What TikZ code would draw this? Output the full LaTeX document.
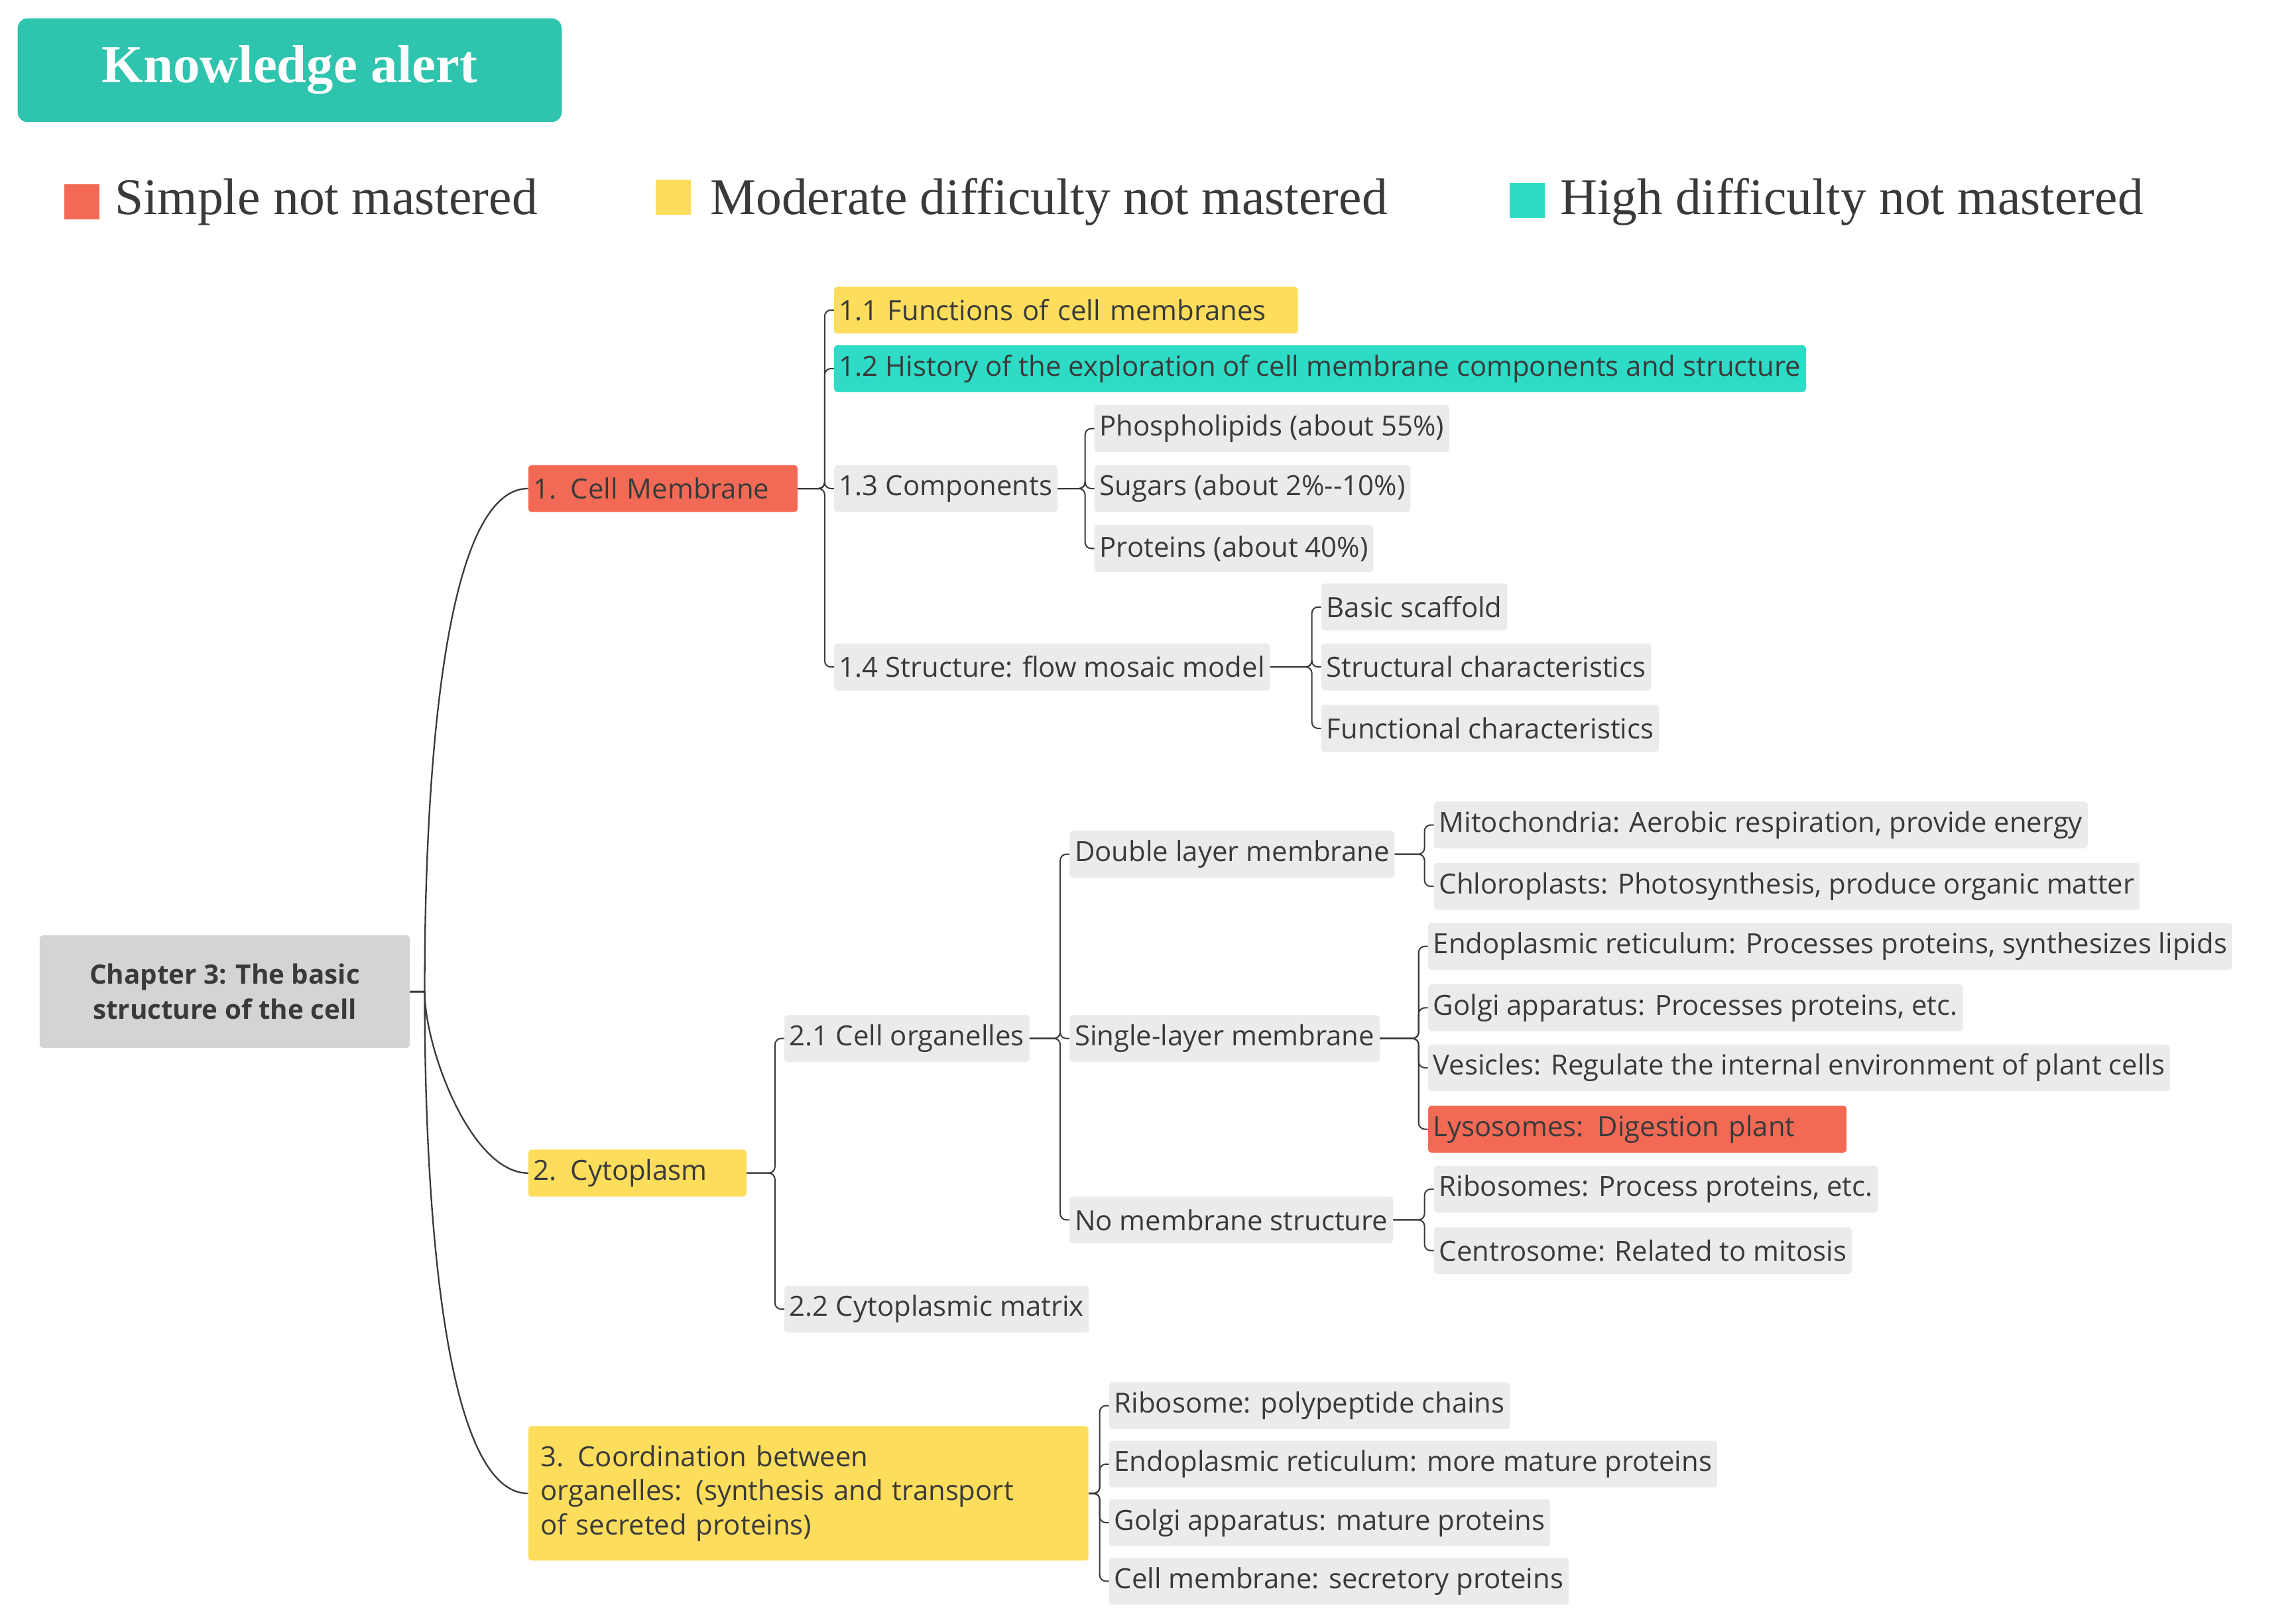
\documentclass[tikz,border=0pt]{standalone}
\usepackage{fontspec}
\setmainfont{Liberation Serif}
\newfontfamily\boxfont{Open Sans}
\usetikzlibrary{positioning}
\definecolor{simple}{HTML}{F26A55}
\definecolor{moderate}{HTML}{FDDD5C}
\definecolor{high}{HTML}{2DDBC6}
\definecolor{titlebg}{HTML}{2EC4AD}
\definecolor{leaf}{HTML}{EBEBEB}
\definecolor{rootbg}{HTML}{D4D4D4}
\definecolor{ink}{HTML}{3A3A3A}
\tikzset{
  box/.style={anchor=west, rounded corners=3pt, inner xsep=5pt, minimum height=1.6cm,
    font=\boxfont\fontsize{27}{33}\selectfont, text=ink, fill=leaf, align=left},
  red/.style={box, fill=simple},
  yel/.style={box, fill=moderate},
  teal/.style={box, fill=high},
  link/.style={draw=ink, line width=1.3pt, rounded corners=6pt},
  curve/.style={draw=ink, line width=1.5pt},
  legend/.style={anchor=west, font=\fontsize{50}{56}\selectfont, text=ink}
}
\newcommand{\branch}[2]{\draw[link] (#1.east) -| ([xshift=-9pt]#2.west) -- (#2.west);}
\begin{document}
\begin{tikzpicture}[x=0.05cm, y=-0.05cm]
\useasboundingbox[fill=white] (0,0) rectangle (1568,1110);
% Titel und Legende
\node [fill=titlebg, rounded corners=10pt, minimum width=18.6cm, minimum height=3.55cm,
  text=white, font=\bfseries\fontsize{52}{58}\selectfont] (title) at (198,48) {Knowledge alert};
\node [fill=simple, minimum size=1.2cm, inner sep=0pt] (lgA) at (56,138) {};
\node [legend] (lgAt) at (76,138) {Simple not mastered};
\node [fill=moderate, minimum size=1.2cm, inner sep=0pt] (lgB) at (460,135) {};
\node [legend] (lgBt) at (483,138) {Moderate difficulty not mastered};
\node [fill=high, minimum size=1.2cm, inner sep=0pt] (lgC) at (1044,137) {};
\node [legend] (lgCt) at (1064,138) {High difficulty not mastered};
% Knoten
\node [box, fill=rootbg, minimum width=12.65cm, minimum height=3.85cm, align=center,
  font=\boxfont\bfseries\fontsize{26}{34}\selectfont] (root) at (27,678) {Chapter 3: The basic\\structure of the cell};
\node [red, text width=8.85cm] (cm) at (361,334) {1. Cell Membrane};
\node [yel, text width=7.1cm] (cyt) at (361,802) {2. Cytoplasm};
\node [yel, text width=18.3cm, minimum height=4.6cm, inner xsep=12pt] (coord) at (361,1021)
  {3. Coordination between\\organelles: (synthesis and transport\\of secreted proteins)};
% 1
\node [yel, text width=15.5cm] (fun) at (570,212) {1.1 Functions of cell membranes};
\node [teal] (hist) at (570,252) {1.2 History of the exploration of cell membrane components and structure};
\node [box] (comp) at (570,334) {1.3 Components};
\node [box] (struc) at (570,456) {1.4 Structure: flow mosaic model};
\node [box] (phos) at (748,293) {Phospholipids (about 55\%)};
\node [box] (sug) at (748,334) {Sugars (about 2\%--10\%)};
\node [box] (prot) at (748,375) {Proteins (about 40\%)};
\node [box] (scaf) at (903,415) {Basic scaffold};
\node [box] (schar) at (903,456) {Structural characteristics};
\node [box] (fchar) at (903,498) {Functional characteristics};
% 2
\node [box] (org) at (536,710) {2.1 Cell organelles};
\node [box] (mat) at (536,895) {2.2 Cytoplasmic matrix};
\node [box] (dbl) at (731,584) {Double layer membrane};
\node [box] (sgl) at (731,710) {Single-layer membrane};
\node [box] (nom) at (731,834) {No membrane structure};
\node [box] (mito) at (980,564) {Mitochondria: Aerobic respiration, provide energy};
\node [box] (chlo) at (980,606) {Chloroplasts: Photosynthesis, produce organic matter};
\node [box] (er) at (976,647) {Endoplasmic reticulum: Processes proteins, synthesizes lipids};
\node [box] (golgi) at (976,689) {Golgi apparatus: Processes proteins, etc.};
\node [box] (ves) at (976,730) {Vesicles: Regulate the internal environment of plant cells};
\node [red, text width=13.95cm] (lys) at (976,772) {Lysosomes: Digestion plant};
\node [box] (ribs) at (980,813) {Ribosomes: Process proteins, etc.};
\node [box] (cent) at (980,855) {Centrosome: Related to mitosis};
% 3
\node [box] (rib) at (758,961) {Ribosome: polypeptide chains};
\node [box] (erp) at (758,1001) {Endoplasmic reticulum: more mature proteins};
\node [box] (gap) at (758,1041) {Golgi apparatus: mature proteins};
\node [box] (cmem) at (758,1081) {Cell membrane: secretory proteins};
% Verbindungen
\draw[curve] (root.east) -- ++(10,0) to[out=90, in=180, looseness=0.5] (cm.west);
\draw[curve] (root.east) -- ++(10,0) to[out=-90, in=180, looseness=0.7] (cyt.west);
\draw[curve] (root.east) -- ++(10,0) to[out=-90, in=180, looseness=0.5] (coord.west);
\branch{cm}{fun} \branch{cm}{hist} \branch{cm}{comp} \branch{cm}{struc}
\branch{comp}{phos} \branch{comp}{sug} \branch{comp}{prot}
\branch{struc}{scaf} \branch{struc}{schar} \branch{struc}{fchar}
\branch{cyt}{org} \branch{cyt}{mat}
\branch{org}{dbl} \branch{org}{sgl} \branch{org}{nom}
\branch{dbl}{mito} \branch{dbl}{chlo}
\branch{sgl}{er} \branch{sgl}{golgi} \branch{sgl}{ves} \branch{sgl}{lys}
\branch{nom}{ribs} \branch{nom}{cent}
\branch{coord}{rib} \branch{coord}{erp} \branch{coord}{gap} \branch{coord}{cmem}
\end{tikzpicture}
\end{document}
